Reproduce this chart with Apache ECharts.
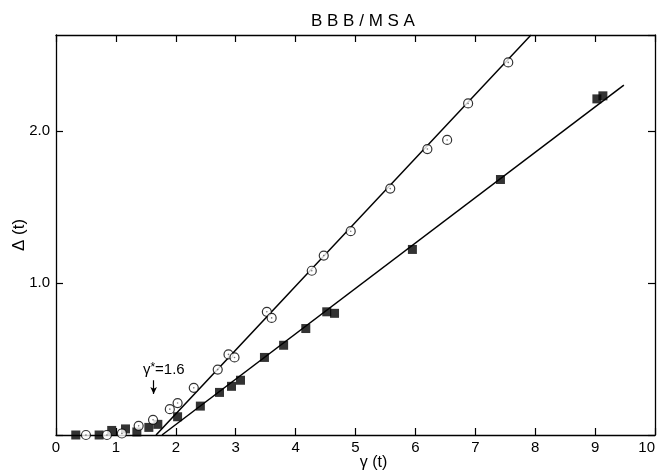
<!DOCTYPE html>
<html><head><meta charset="utf-8">
<script src="https://cdn.jsdelivr.net/npm/echarts@6/dist/echarts.min.js"></script>
<style>html,body{margin:0;padding:0;background:#fff}#c{width:659px;height:473px}</style>
</head><body><div id="c"></div>
<script>
var squareX = [0.33, 0.72, 0.93, 1.16, 1.35, 1.55, 1.70, 2.03, 2.41, 2.73, 2.93, 3.08, 3.48, 3.80, 4.17, 4.52, 4.65, 5.95, 7.42, 9.03, 9.13];
var squareY = [0.00, 0.00, 0.03, 0.04, 0.02, 0.05, 0.07, 0.12, 0.19, 0.28, 0.32, 0.36, 0.51, 0.59, 0.70, 0.81, 0.80, 1.22, 1.68, 2.21, 2.23];
var circleX = [0.50, 0.85, 1.10, 1.38, 1.62, 1.90, 2.03, 2.30, 2.70, 2.88, 2.98, 3.52, 3.60, 4.27, 4.47, 4.92, 5.58, 6.20, 6.53, 6.88, 7.55];
var circleY = [0.00, 0.00, 0.01, 0.06, 0.10, 0.17, 0.21, 0.31, 0.43, 0.53, 0.51, 0.81, 0.77, 1.08, 1.18, 1.34, 1.62, 1.88, 1.94, 2.18, 2.45];
var circleFitX = [1.67, 7.93];
var circleFitY = [0.00, 2.63];
var squareFitX = [1.77, 9.48];
var squareFitY = [0.00, 2.30];
var xTicks = [0,1,2,3,4,5,6,7,8,9,10];
var yTicks = [1.0, 2.0];
var gammaStar = 1.6;

function pairs(xs, ys){ return xs.map(function(x,i){ return [x, ys[i]]; }); }
var F = 'Liberation Sans, Arial, sans-serif';
var chart = echarts.init(document.getElementById('c'), null, {renderer:'canvas'});
var axisCommon = {
  axisLine:{show:true, onZero:false, lineStyle:{color:'#000', width:1.3}},
  splitLine:{show:false}
};
chart.setOption({
  animation:false,
  backgroundColor:'#fff',
  title:{text:'B B B / M S A', left:306, top:8, textStyle:{fontFamily:F, fontSize:17, fontWeight:'normal', color:'#000'}},
  grid:{left:56, right:4, top:35, bottom:38, containLabel:false, outerBoundsMode:'none'},
  xAxis:[
    Object.assign({type:'value', min:0, max:10, interval:1, position:'bottom',
      name:'γ (t)', nameLocation:'middle', nameGap:20, nameMoveOverlap:false,
      nameTextStyle:{fontFamily:F, fontSize:16, color:'#000', padding:[0,0,0,36]},
      axisTick:{show:true, inside:true, length:7, lineStyle:{color:'#000', width:1.2}},
      axisLabel:{fontFamily:F, fontSize:15, color:'#000', margin:5, alignMaxLabel:'right',
        formatter:function(v){return xTicks.indexOf(v)>=0? String(v):'';}}
    }, axisCommon),
    Object.assign({type:'value', min:0, max:10, interval:1, position:'top',
      axisTick:{show:true, inside:true, length:7, lineStyle:{color:'#000', width:1.2}},
      axisLabel:{show:false}
    }, axisCommon)
  ],
  yAxis:[
    Object.assign({type:'value', min:0, max:2.63, interval:1, position:'left',
      name:'Δ (t)', nameLocation:'middle', nameGap:28, nameRotate:90, nameMoveOverlap:false,
      nameTextStyle:{fontFamily:F, fontSize:17, color:'#000'},
      axisTick:{show:true, inside:true, length:7, lineStyle:{color:'#000', width:1.2}},
      axisLabel:{fontFamily:F, fontSize:15, color:'#000', margin:6, showMaxLabel:false,
        formatter:function(v){ return yTicks.indexOf(v)>=0 ? v.toFixed(1) : ''; }}
    }, axisCommon),
    Object.assign({type:'value', min:0, max:2.63, interval:1, position:'right',
      axisTick:{show:true, inside:true, length:7, lineStyle:{color:'#000', width:1.2}},
      axisLabel:{show:false}
    }, axisCommon)
  ],
  series:[
    {type:'line', data:pairs(circleFitX, circleFitY), symbol:'none', lineStyle:{color:'#000', width:1.5}, z:2},
    {type:'line', data:pairs(squareFitX, squareFitY), symbol:'none', lineStyle:{color:'#000', width:1.5}, z:2,
      markLine:{silent:true, symbol:['none','arrow'], symbolSize:[5,7], label:{show:false},
        lineStyle:{color:'#000', width:1.2, type:'solid'},
        data:[[{coord:[gammaStar+0.03, 0.36]},{coord:[gammaStar+0.03, 0.27]}]]},
      markPoint:{silent:true, symbol:'circle', symbolSize:1, itemStyle:{color:'rgba(0,0,0,0)'},
        label:{show:true, formatter:'{g|γ}{s|*}{g|=1.6}', position:'inside',
          rich:{g:{fontFamily:F, fontSize:15, color:'#000', verticalAlign:'bottom'},
                s:{fontFamily:F, fontSize:12, color:'#000', verticalAlign:'top'}}},
        data:[{coord:[gammaStar+0.2, 0.43]}]}
    },
    {type:'scatter', data:pairs(squareX, squareY), symbol:'rect', symbolSize:9,
      itemStyle:{color:'#000'}, z:3},
    {type:'scatter', data:pairs(circleX, circleY), symbol:'circle', symbolSize:9,
      itemStyle:{color:'#fff', borderColor:'#000', borderWidth:1.2}, z:4},
    {type:'scatter', data:pairs(circleX, circleY), symbol:'circle', symbolSize:1.6,
      itemStyle:{color:'#555'}, z:5}
  ]
});
</script></body></html>
